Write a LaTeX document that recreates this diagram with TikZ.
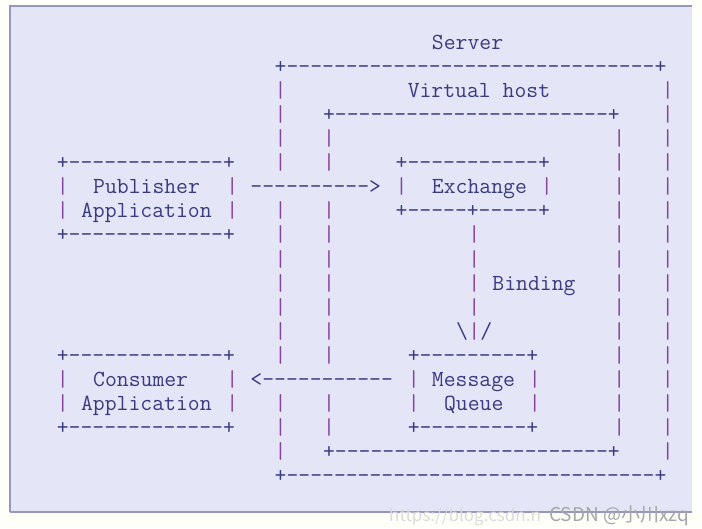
\documentclass[tikz,border=0pt]{standalone}
\usepackage{fontspec}
\newfontfamily\cjk{Noto Sans CJK SC}

\definecolor{ink}{RGB}{58,58,128}
\definecolor{barink}{RGB}{132,66,154}
\definecolor{panel}{RGB}{229,229,248}
\definecolor{rim}{RGB}{150,150,192}
\definecolor{paper}{RGB}{255,255,250}

\begin{document}
\begin{tikzpicture}[x=1pt, y=-1pt,
    ch/.style={anchor=base west, inner sep=0pt, text=ink, font=\ttfamily\fontsize{23.05}{24}\selectfont},
    bar/.style={ch, text=barink},
    wmark/.style={anchor=base west, inner sep=0pt, font=\cjk\fontsize{19}{19}\selectfont}]

  % panel
  \fill[paper] (0,0) rectangle (702,528);
  \fill[panel] (10,6) rectangle (692,512);
  \draw[rim, line width=1.2pt] (10,512) -- (10,6) -- (692,6);
  \draw[rim, line width=2pt] (10,512) -- (692,512);

  % character grid: one unit = one column / one line
  \begin{scope}[shift={(56.65,49.5)}, x=12.1pt, y=-24.06pt]
    % server
    \node[ch] (server) at (31,0) {Server};
    \node[ch] (srvtop) at (18,1) {+-------------------------------+};
    \node[ch] (srvbot) at (18,18) {+-------------------------------+};
    \foreach \r in {2,3,4,5,7,8,9,10,11,12,13,15,16,17}
      \node[bar] (srvl\r) at (18,\r) {|};
    \foreach \r in {2,...,17}
      \node[bar] (srvr\r) at (50,\r) {|};

    % virtual host
    \node[ch] (vhost) at (29,2) {Virtual host};
    \node[ch] (vhtop) at (22,3) {+-----------------------+};
    \node[ch] (vhbot) at (22,17) {+-----------------------+};
    \foreach \r in {4,5,7,8,9,10,11,12,13,15,16}
      \node[bar] (vhl\r) at (22,\r) {|};
    \foreach \r in {4,...,16}
      \node[bar] (vhr\r) at (46,\r) {|};

    % publisher
    \node[ch] (pubtop) at (0,5) {+-------------+};
    \node[ch] (pub) at (3,6) {Publisher};
    \node[ch] (pubapp) at (2,7) {Application};
    \node[ch] (pubbot) at (0,8) {+-------------+};
    \foreach \r in {6,7} {
      \node[bar] (publ\r) at (0,\r) {|};
      \node[bar] (pubr\r) at (14,\r) {|};
    }

    % consumer
    \node[ch] (contop) at (0,13) {+-------------+};
    \node[ch] (con) at (3,14) {Consumer};
    \node[ch] (conapp) at (2,15) {Application};
    \node[ch] (conbot) at (0,16) {+-------------+};
    \foreach \r in {14,15} {
      \node[bar] (conl\r) at (0,\r) {|};
      \node[bar] (conr\r) at (14,\r) {|};
    }

    % exchange
    \node[ch] (exctop) at (28,5) {+-----------+};
    \node[bar] (excl) at (28,6) {|};
    \node[ch] (exc) at (31,6) {Exchange};
    \node[bar] (excr) at (40,6) {|};
    \node[ch] (excbot) at (28,7) {+-----+-----+};

    % binding
    \foreach \r in {8,...,11}
      \node[bar] (bind\r) at (34,\r) {|};
    \node[ch] (bind) at (36,10) {Binding};
    \node[ch] (headl) at (33,12) {\textbackslash};
    \node[bar] (headm) at (34,12) {|};
    \node[ch] (headr) at (35,12) {/};

    % message queue
    \node[ch] (quetop) at (29,13) {+---------+};
    \node[ch] (msg) at (31,14) {Message};
    \node[ch] (que) at (32,15) {Queue};
    \node[ch] (quebot) at (29,16) {+---------+};
    \foreach \r in {14,15} {
      \node[bar] (quel\r) at (29,\r) {|};
      \node[bar] (quer\r) at (39,\r) {|};
    }

    % flows
    \node[ch] (publish) at (16,6) {---------->};
    \node[ch] (consume) at (16,14) {<-----------};
  \end{scope}

  % watermark
  \node[wmark, text=white!72!gray, font=\cjk\fontsize{17}{17}\selectfont] (url) at (389,521) {https://blog.csdn.n};
  \node[wmark, text=gray!70] (csdn) at (549,521) {CSDN @小川xzq};
\end{tikzpicture}
\end{document}
